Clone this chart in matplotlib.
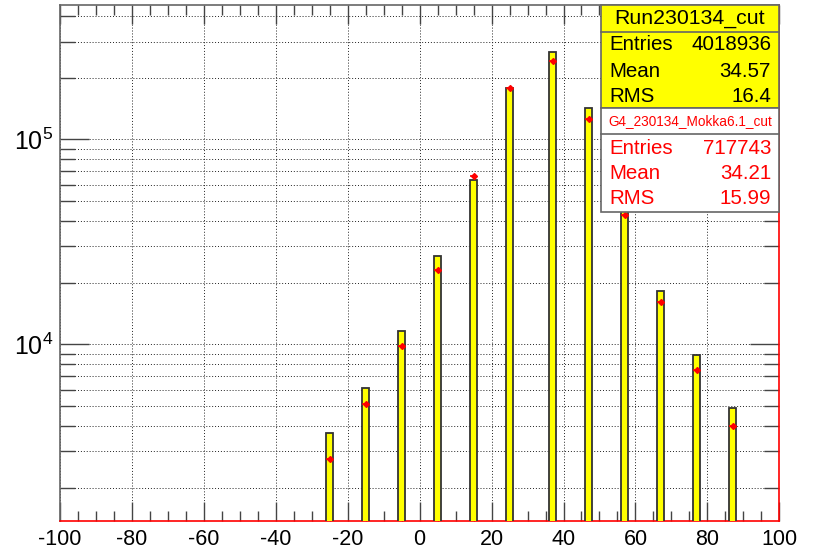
#!/usr/bin/env python3
"""
Run230134_cut とシミュレーション (G4 Mokka6.1) の比較ヒストグラム
"""
import matplotlib
matplotlib.use('Agg')
import matplotlib.pyplot as plt
from matplotlib.ticker import MultipleLocator, LogLocator, NullFormatter, FuncFormatter
from matplotlib.patches import Rectangle
from matplotlib.lines import Line2D
import numpy as np

# ---- データ ----
bin_centers = [-25, -15, -5, 5, 15, 25, 37, 47, 57, 67, 77, 87]
data_counts = [3680, 6100, 11650, 27050, 63300, 177600, 265700, 142600, 52000, 18200, 8840, 4910]
mc_counts = [2770, 5120, 9810, 22960, 66000, 178500, 240000, 126000, 42600, 16000, 7490, 4010]
bin_width = 2

data_name = "Run230134_cut"
data_stats = [("Entries", "4018936"), ("Mean", "34.57"), ("RMS", "16.4")]
mc_name = "G4_230134_Mokka6.1_cut"
mc_stats = [("Entries", "717743"), ("Mean", "34.21"), ("RMS", "15.99")]

x_range = (-100, 100)
y_range = (1374, 453600)

# ---- フォント ----
plt.rcParams['font.family'] = ['Liberation Sans', 'DejaVu Sans']
plt.rcParams['mathtext.fontset'] = 'custom'
plt.rcParams['mathtext.rm'] = 'Liberation Sans'
plt.rcParams['axes.unicode_minus'] = False

W, H = 814, 550
fig = plt.figure(figsize=(W / 100, H / 100), dpi=100)
fig.patch.set_facecolor('white')


def fx(px):
    return px / W


def fy(py):
    return 1 - py / H


ax = fig.add_axes([fx(60), fy(521), fx(779.3) - fx(60), fy(4.7) - fy(521)])
ax.set_yscale('log')
ax.set_xlim(*x_range)
ax.set_ylim(*y_range)

# グリッド
ax.grid(True, which='both', axis='y', linestyle=(0, (1, 2)), color='#222222', lw=0.7)
ax.grid(True, which='major', axis='x', linestyle=(0, (1, 2)), color='#222222', lw=0.7)
ax.set_axisbelow(True)

# 実データ（黄色のバー）
ax.bar(bin_centers, data_counts, width=bin_width, color='#ffff00',
       edgecolor='#333333', linewidth=1.3, zorder=3)

# シミュレーション（赤の点）
ax.errorbar(bin_centers, mc_counts, xerr=bin_width / 2, fmt='D', ms=3,
            color='red', ecolor='red', elinewidth=1.2, capsize=0, zorder=4)

# 目盛り
ax.xaxis.set_major_locator(MultipleLocator(20))
ax.xaxis.set_minor_locator(MultipleLocator(5))
ax.yaxis.set_major_locator(LogLocator(base=10))
ax.yaxis.set_minor_locator(LogLocator(base=10, subs=np.arange(2, 10)))
ax.yaxis.set_minor_formatter(NullFormatter())
ax.yaxis.set_major_formatter(FuncFormatter(
    lambda v, p: r'$\mathregular{10^{%d}}$' % int(round(np.log10(v)))))

ax.tick_params(axis='x', which='major', direction='in', length=14, width=1,
               color='#444444', top=True, labelsize=15.5, pad=6)
ax.tick_params(axis='x', which='minor', direction='in', length=7, width=1,
               color='#444444', top=True)
ax.tick_params(axis='y', which='major', direction='in', length=21, width=1,
               color='#444444', right=True, labelsize=18, pad=5)
ax.tick_params(axis='y', which='minor', direction='in', length=11, width=1,
               color='#444444', right=True)

for side in ['left', 'top']:
    ax.spines[side].set_color('#666666')
    ax.spines[side].set_linewidth(1.2)
for side in ['bottom', 'right']:
    ax.spines[side].set_color('red')
    ax.spines[side].set_linewidth(1.2)

# ---- 統計ボックス ----
bx0, bx1 = 600.7, 779.3


def stat_box(y0, y1, ysep, face, color, name, name_size, rows, row_ys, title_y):
    fig.add_artist(Rectangle((fx(bx0), fy(y1)), fx(bx1) - fx(bx0), fy(y0) - fy(y1),
                             transform=fig.transFigure, facecolor=face,
                             edgecolor='#666666', linewidth=1.2, zorder=10))
    fig.add_artist(Line2D([fx(bx0), fx(bx1)], [fy(ysep), fy(ysep)],
                          transform=fig.transFigure, color='#666666', lw=1.2, zorder=11))
    fig.text(fx((bx0 + bx1) / 2), fy(title_y), name, color=color, fontsize=name_size,
             ha='center', va='center', zorder=12)
    for (label, value), ry in zip(rows, row_ys):
        fig.text(fx(609), fy(ry), label, color=color, fontsize=14.8,
                 ha='left', va='center', zorder=12)
        fig.text(fx(771), fy(ry), value, color=color, fontsize=14.8,
                 ha='right', va='center', zorder=12)


stat_box(4.7, 108.3, 31.7, '#ffff00', 'black', data_name, 15.3,
         data_stats, [45, 71.7, 96.7], 18)
stat_box(108.3, 211.7, 133.7, 'white', 'red', mc_name, 9.8,
         mc_stats, [148.3, 173.3, 199], 120.7)

plt.savefig('out.png', dpi=100, facecolor='white')
plt.close()
